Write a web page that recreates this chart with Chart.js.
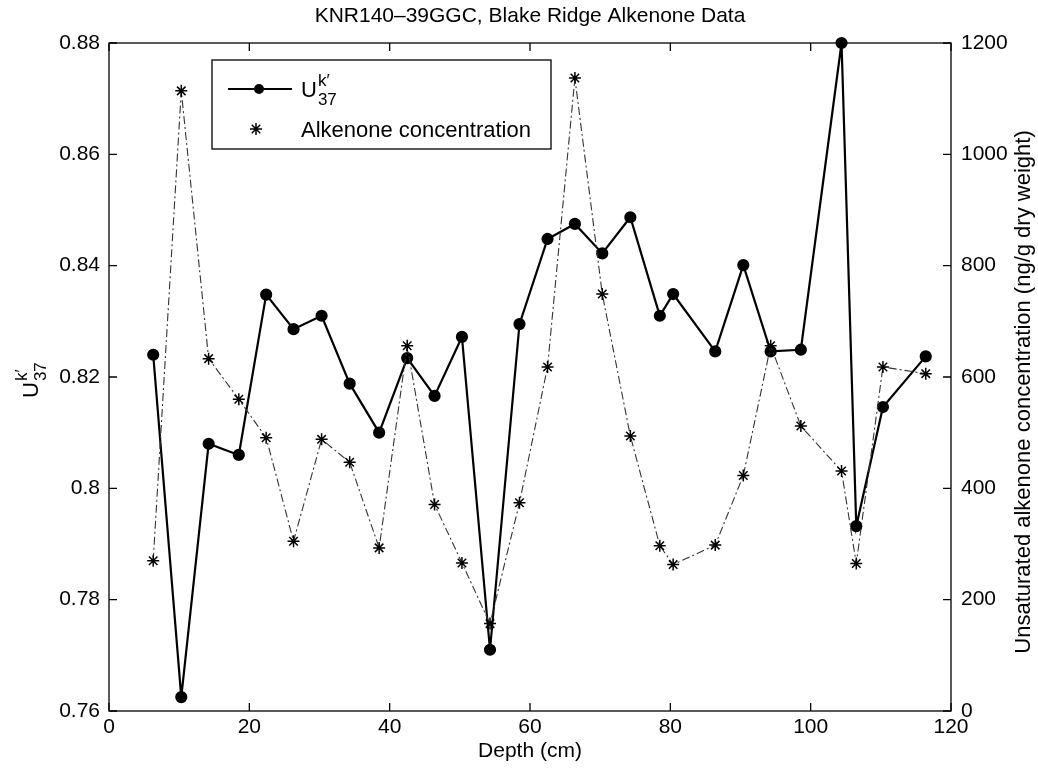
<!DOCTYPE html>
<html>
<head>
<meta charset="utf-8">
<script src="https://cdn.jsdelivr.net/npm/chart.js@4/dist/chart.umd.min.js"></script>
<style>
  body { margin: 0; background: #fff; }
  #wrap { width: 1038px; height: 771px; }
</style>
</head>
<body>
<div id="wrap"><canvas id="chart" width="1038" height="771"></canvas></div>
<script>
// Sample depths (cm), shared by both series
const depths = [6.3, 10.3, 14.2, 18.5, 22.4, 26.3, 30.3, 34.3, 38.5, 42.5, 46.4, 50.3, 54.3, 58.5,
                62.5, 66.4, 70.3, 74.3, 78.5, 80.4, 86.4, 90.4, 94.3, 98.6, 104.4, 106.5, 110.3, 116.4];
// U37k' index (left axis)
const uk37 = [0.824, 0.7625, 0.808, 0.806, 0.8348, 0.8286, 0.831, 0.8188, 0.810, 0.8234, 0.8166, 0.8272, 0.771, 0.8295,
              0.8448, 0.8475, 0.8422, 0.8487, 0.831, 0.8349, 0.8246, 0.8401, 0.8246, 0.8249, 0.880, 0.7932, 0.8146, 0.8237];
// Alkenone concentration, ng/g dry weight (right axis)
const alkenone = [270, 1114, 633, 560, 491, 305, 488, 447, 293, 656, 371, 266, 157, 374,
                  618, 1137, 749, 494, 297, 263, 298, 423, 656, 512, 431, 265, 618, 606];

const xTicks = [0, 20, 40, 60, 80, 100, 120];
const FONT = 'Helvetica, "Liberation Sans", Arial, sans-serif';

// MATLAB-like box with inward ticks on all four sides
const boxTicks = {
    id: 'boxTicks',
    afterDraw(chart) {
        const ctx = chart.ctx;
        const a = chart.chartArea;
        const len = 8;
        ctx.save();
        ctx.strokeStyle = '#000';
        ctx.lineWidth = 1.3;
        ctx.strokeRect(a.left, a.top, a.right - a.left, a.bottom - a.top);
        ctx.beginPath();
        chart.scales.x.ticks.forEach(t => {
            const px = chart.scales.x.getPixelForValue(t.value);
            ctx.moveTo(px, a.bottom); ctx.lineTo(px, a.bottom - len);
            ctx.moveTo(px, a.top); ctx.lineTo(px, a.top + len);
        });
        chart.scales.y.ticks.forEach(t => {
            const py = chart.scales.y.getPixelForValue(t.value);
            ctx.moveTo(a.left, py); ctx.lineTo(a.left + len, py);
        });
        chart.scales.y1.ticks.forEach(t => {
            const py = chart.scales.y1.getPixelForValue(t.value);
            ctx.moveTo(a.right, py); ctx.lineTo(a.right - len, py);
        });
        ctx.stroke();
        ctx.restore();
    }
};

// draws "U" with k' superscript and 37 subscript starting at (x, y baseline)
function drawUk37(ctx, x, y, big, small) {
    ctx.font = big + 'px ' + FONT;
    ctx.textAlign = 'left';
    ctx.textBaseline = 'alphabetic';
    ctx.fillText('U', x, y);
    const w = ctx.measureText('U').width;
    ctx.font = small + 'px ' + FONT;
    ctx.fillText('k\u2032', x + w + 1, y - big * 0.5);
    ctx.fillText('37', x + w + 1, y + big * 0.35);
}

// title, axis titles and legend
const labels = {
    id: 'labels',
    afterDraw(chart) {
        const ctx = chart.ctx;
        const a = chart.chartArea;
        ctx.save();
        ctx.fillStyle = '#000';
        ctx.textAlign = 'center';
        ctx.textBaseline = 'middle';
        ctx.font = '21px ' + FONT;
        ctx.fillText('KNR140\u201339GGC, Blake Ridge Alkenone Data', (a.left + a.right) / 2, 16);
        ctx.fillText('Depth (cm)', (a.left + a.right) / 2, 751);

        // right axis title
        ctx.save();
        ctx.translate(1024, 392);
        ctx.rotate(-Math.PI / 2);
        ctx.font = '22px ' + FONT;
        ctx.fillText('Unsaturated alkenone concentration (ng/g dry weight)', 0, 0);
        ctx.restore();

        // left axis title
        ctx.save();
        ctx.translate(38, 398);
        ctx.rotate(-Math.PI / 2);
        drawUk37(ctx, 0, 0, 22, 17);
        ctx.restore();

        // legend box
        const lx = 212, ly = 60, lw = 339, lh = 89;
        ctx.fillStyle = '#fff';
        ctx.fillRect(lx, ly, lw, lh);
        ctx.strokeStyle = '#000';
        ctx.lineWidth = 1.3;
        ctx.strokeRect(lx, ly, lw, lh);
        ctx.fillStyle = '#000';
        ctx.lineWidth = 2;
        ctx.beginPath();
        ctx.moveTo(228, 89); ctx.lineTo(292, 89);
        ctx.stroke();
        ctx.beginPath();
        ctx.arc(259, 89, 5, 0, Math.PI * 2);
        ctx.fill();
        drawUk37(ctx, 301, 97, 22, 17);
        // star marker
        ctx.lineWidth = 1.5;
        ctx.beginPath();
        const sx = 256, sy = 129, r = 6;
        for (let k = 0; k < 4; k++) {
            const ang = k * Math.PI / 4;
            ctx.moveTo(sx - r * Math.cos(ang), sy - r * Math.sin(ang));
            ctx.lineTo(sx + r * Math.cos(ang), sy + r * Math.sin(ang));
        }
        ctx.stroke();
        ctx.font = '22px ' + FONT;
        ctx.textAlign = 'left';
        ctx.textBaseline = 'middle';
        ctx.fillText('Alkenone concentration', 301, 131);
        ctx.restore();
    }
};

new Chart(document.getElementById('chart'), {
    type: 'line',
    data: {
        datasets: [
            {
                label: 'Alkenone concentration',
                data: depths.map((d, i) => ({ x: d, y: alkenone[i] })),
                yAxisID: 'y1',
                borderColor: '#333',
                borderWidth: 1.1,
                borderDash: [8, 3, 2, 3],
                pointStyle: 'star',
                pointRadius: 6,
                pointBorderColor: '#000',
                pointBorderWidth: 1.5,
                tension: 0
            },
            {
                label: 'Uk37',
                data: depths.map((d, i) => ({ x: d, y: uk37[i] })),
                yAxisID: 'y',
                borderColor: '#000',
                borderWidth: 2.2,
                pointStyle: 'circle',
                pointRadius: 5,
                pointBackgroundColor: '#000',
                pointBorderColor: '#000',
                tension: 0
            }
        ]
    },
    options: {
        responsive: false,
        animation: false,
        clip: false,
        layout: { padding: { top: 43, left: 0, right: 0, bottom: 0 } },
        plugins: { legend: { display: false }, title: { display: false }, tooltip: { enabled: false } },
        scales: {
            x: {
                type: 'linear',
                min: 0, max: 120,
                afterBuildTicks: s => { s.ticks = xTicks.map(v => ({ value: v })); },
                afterFit: s => { s.height = 60; },
                grid: { display: false, drawTicks: false },
                border: { display: false },
                ticks: { padding: 4, color: '#000', font: { family: FONT, size: 21 }, maxRotation: 0 }
            },
            y: {
                position: 'left',
                min: 0.76, max: 0.88,
                afterFit: s => { s.width = 109; },
                grid: { display: false, drawTicks: false },
                border: { display: false },
                ticks: {
                    stepSize: 0.02, padding: 9, color: '#000',
                    font: { family: FONT, size: 21 },
                    callback: v => String(+v.toFixed(2))
                }
            },
            y1: {
                position: 'right',
                min: 0, max: 1200,
                afterFit: s => { s.width = 87; },
                grid: { display: false, drawTicks: false },
                border: { display: false },
                ticks: {
                    stepSize: 200, padding: 10, color: '#000',
                    font: { family: FONT, size: 21 },
                    callback: v => String(v)
                }
            }
        }
    },
    plugins: [boxTicks, labels]
});
</script>
</body>
</html>
